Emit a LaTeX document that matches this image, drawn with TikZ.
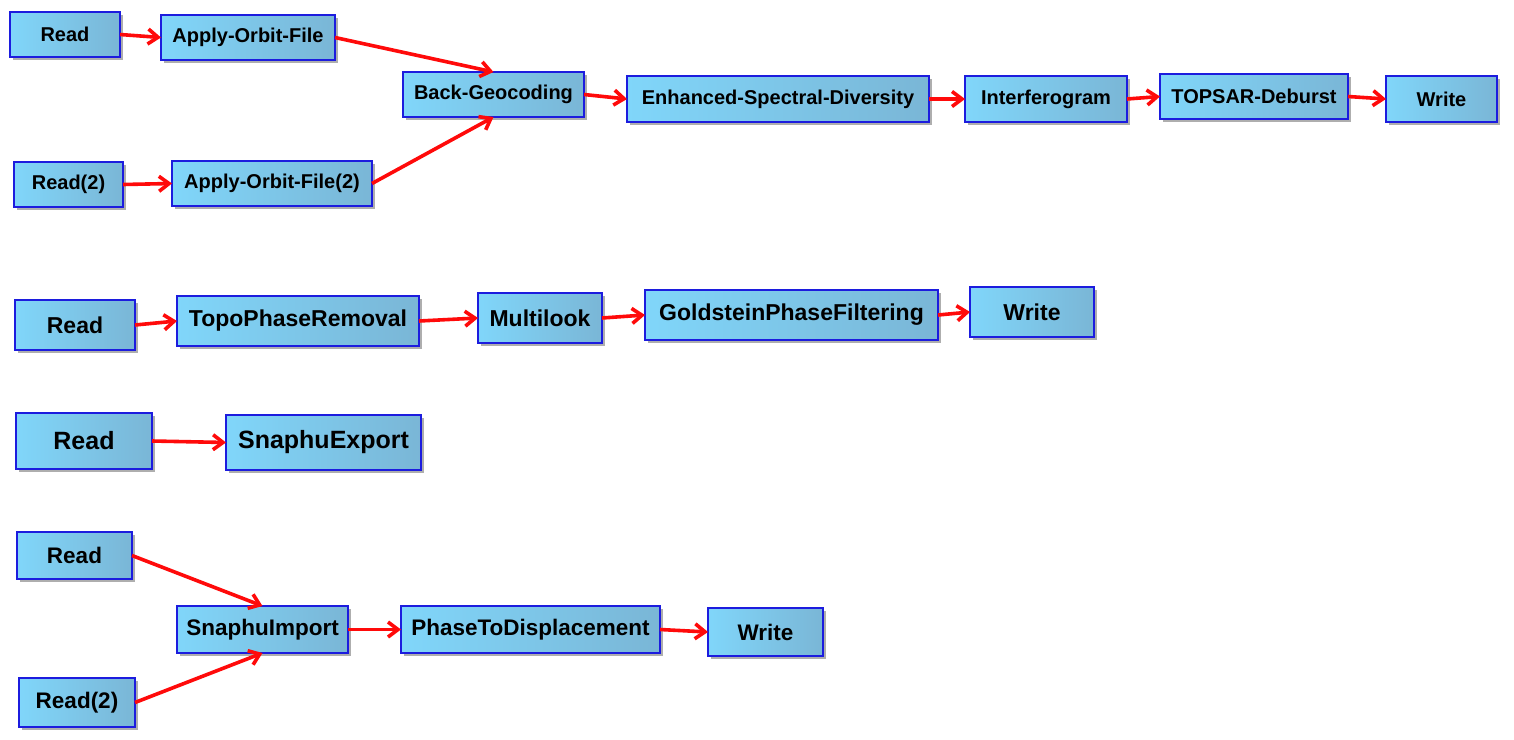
\documentclass[tikz,border=0pt]{standalone}
\usepackage{fontspec}
\setmainfont{Liberation Sans}
\usetikzlibrary{arrows.meta,shadows}
\definecolor{boxL}{RGB}{128,214,250}
\definecolor{boxR}{RGB}{122,182,214}
\definecolor{boxB}{RGB}{28,28,222}
\definecolor{arr}{RGB}{255,10,10}
\tikzset{
  procbox/.style={draw=boxB, line width=2pt, left color=boxL, right color=boxR,
    inner sep=0pt, outer sep=0pt, text=black,
    drop shadow={shadow xshift=3pt, shadow yshift=-3pt, opacity=0.45, fill=black!70}},
  flow/.style={draw=arr, line width=3.6pt, -{Straight Barb[length=10pt,width=15pt]}}
}
\newcommand\bx[7]{\node[procbox, minimum width=#4pt-#2pt, minimum height=#5pt-#3pt,
  font=\fontsize{#7}{#7}\selectfont\bfseries] (#1) at ({(#2+#4)/2},{(#3+#5)/2}) {#6};}
\begin{document}
\begin{tikzpicture}[x=1pt,y=-1pt]
\fill[white] (0,0) rectangle (1514,739);
\useasboundingbox (0,0) rectangle (1514,739);
% row 1
\bx{rA}{10}{12}{120}{57}{Read}{20}
\bx{aof}{161}{15}{335}{60}{Apply-Orbit-File}{20}
\bx{bg}{403}{72}{584}{117}{Back-Geocoding}{20}
\bx{rB}{14}{162}{123}{207}{Read(2)}{20}
\bx{aofb}{172}{161}{372}{206}{Apply-Orbit-File(2)}{20}
\bx{esd}{627}{76}{929}{122}{Enhanced-Spectral-Diversity}{20}
\bx{ifg}{965}{76}{1127}{122}{Interferogram}{20}
\bx{deb}{1160}{74}{1348}{119}{TOPSAR-Deburst}{20}
\bx{wA}{1386}{76}{1497}{122}{Write}{20}
% row 2
\bx{rC}{15}{300}{135}{350}{Read}{23}
\bx{tpr}{177}{296}{419}{346}{TopoPhaseRemoval}{23}
\bx{ml}{478}{293}{602}{343}{Multilook}{23}
\bx{gpf}{645}{290}{938}{340}{GoldsteinPhaseFiltering}{23}
\bx{wB}{970}{287}{1094}{337}{Write}{23}
% row 3
\bx{rD}{16}{413}{152}{469}{Read}{25}
\bx{se}{226}{415}{421}{470}{SnaphuExport}{25}
% row 4
\bx{rE}{17}{532}{132}{579}{Read}{22.5}
\bx{si}{177}{606}{348}{653}{SnaphuImport}{22.5}
\bx{ptd}{401}{606}{660}{653}{PhaseToDisplacement}{22.5}
\bx{wC}{708}{608}{823}{656}{Write}{22.5}
\bx{rF}{19}{678}{135}{727}{Read(2)}{22.5}
% edges
\draw[flow] (rA.east) -- (aof.west);
\draw[flow] (rB.east) -- (aofb.west);
\draw[flow] (aof.east) -- (bg.north);
\draw[flow] (aofb.east) -- (bg.south);
\draw[flow] (bg.east) -- (esd.west);
\draw[flow] (esd.east) -- (ifg.west);
\draw[flow] (ifg.east) -- (deb.west);
\draw[flow] (deb.east) -- (wA.west);
\draw[flow] (rC.east) -- (tpr.west);
\draw[flow] (tpr.east) -- (ml.west);
\draw[flow] (ml.east) -- (gpf.west);
\draw[flow] (gpf.east) -- (wB.west);
\draw[flow] (rD.east) -- (se.west);
\draw[flow] (rE.east) -- (si.north);
\draw[flow] (rF.east) -- (si.south);
\draw[flow] (si.east) -- (ptd.west);
\draw[flow] (ptd.east) -- (wC.west);
\end{tikzpicture}
\end{document}
